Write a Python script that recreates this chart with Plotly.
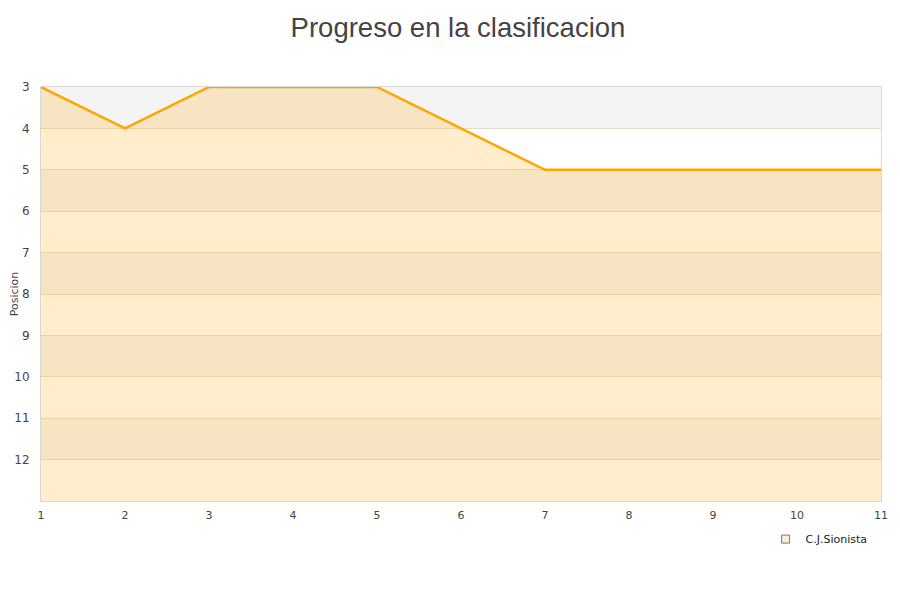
import plotly.graph_objects as go

jornadas = [1, 2, 3, 4, 5, 6, 7, 8, 9, 10, 11]
posicion = [3, 4, 3, 3, 3, 4, 5, 5, 5, 5, 5]
team = "C.J.Sionista"
y_ticks = [3, 4, 5, 6, 7, 8, 9, 10, 11, 12]
y_bottom = 13

fig = go.Figure()

# alternating bands
for k in range(3, 13, 2):
    fig.add_shape(type="rect", xref="paper", yref="y", x0=0, x1=1, y0=k, y1=k + 1,
                  fillcolor="#f4f4f4", line_width=0, layer="below")

fig.add_trace(go.Scatter(x=jornadas, y=[y_bottom] * len(jornadas), mode="lines",
                         line=dict(width=0, color="rgba(0,0,0,0)"), showlegend=False,
                         hoverinfo="skip"))
fig.add_trace(go.Scatter(x=jornadas, y=posicion, mode="lines", fill="tonexty",
                         fillcolor="rgba(255,165,0,0.2)",
                         line=dict(color="#ffa500", width=2.5), showlegend=False, name=team))
fig.add_trace(go.Scatter(x=[None], y=[None], mode="markers", name=team,
                         marker=dict(symbol="square", size=8, color="#feedcc",
                                     line=dict(color="#777", width=1))))

fig.update_layout(
    width=900, height=600,
    paper_bgcolor="white", plot_bgcolor="white",
    margin=dict(l=33, r=27, t=79, b=107),
    title=dict(text="Progreso en la clasificacion", x=0.5, xanchor="center", y=0.968, yanchor="middle",
               font=dict(family="Liberation Sans, Arial", size=27.5, color="#444")),
    font=dict(family="DejaVu Sans", size=12, color="#444"),
    showlegend=True,
    legend=dict(x=0.99, y=-0.092, xanchor="right", yanchor="middle", bgcolor="rgba(0,0,0,0)",
                font=dict(family="DejaVu Sans", size=11, color="#222")),
    xaxis=dict(range=[1, 11], tickvals=jornadas, showgrid=False, zeroline=False, automargin=False,
               showline=True, linecolor="#d8d8d8", linewidth=1, ticks="", mirror=True,
               ticklabelstandoff=4, tickfont=dict(size=11, color="#444")),
    yaxis=dict(range=[y_bottom, 3], tickvals=y_ticks, showgrid=True, gridcolor="#e6dcc8",
               zeroline=False, showline=True, linecolor="#d8d8d8", linewidth=1, mirror=True,
               automargin=False, ticks="", ticklabelstandoff=8, tickfont=dict(size=12, color="#444"),
               title=dict(text="Posicion", font=dict(size=11, color="#444"), standoff=2)),
)

fig.write_html("out.html")
